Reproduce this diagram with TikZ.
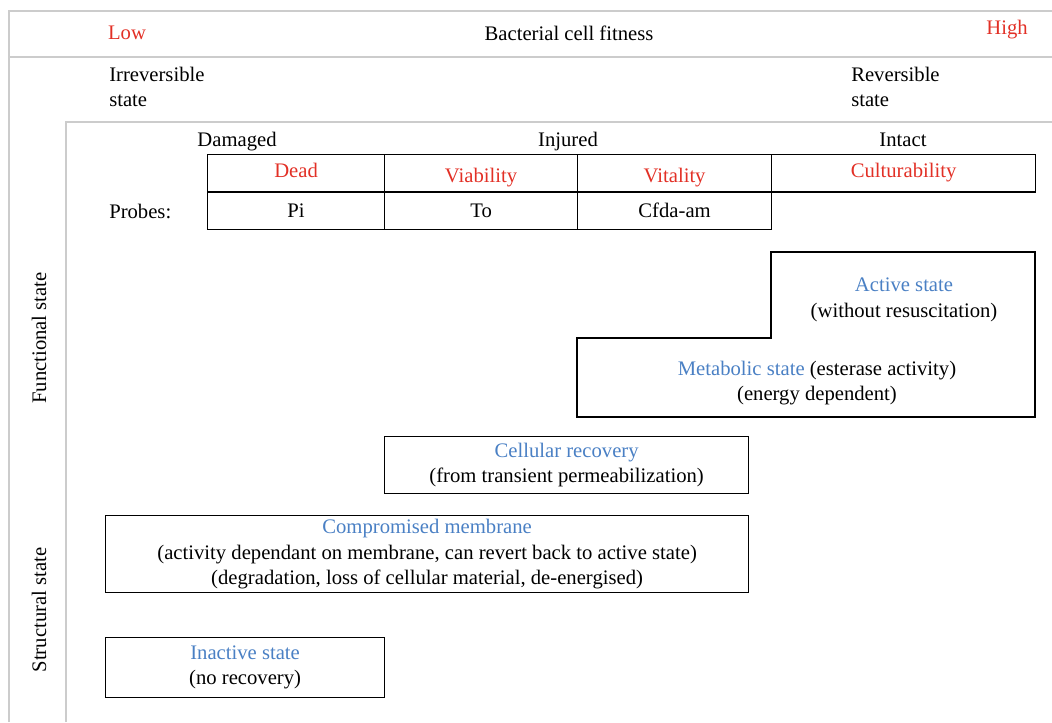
\documentclass[tikz,border=0pt]{standalone}
\usepackage{fontspec}
\setmainfont{Liberation Serif}
\definecolor{lowred}{RGB}{226,48,38}
\definecolor{stateblue}{RGB}{74,128,196}
\definecolor{framegray}{RGB}{204,204,204}
\begin{document}
\begin{tikzpicture}[x=0.75pt,y=-0.75pt,
        every node/.style={font=\fontsize{15.5}{19}\selectfont,inner sep=0pt},
        frame/.style={draw=framegray,line width=1.4pt},
        cell/.style={draw,line width=0.9pt,anchor=north west,minimum height=28pt,
            text height=10.5pt,text depth=3.5pt},
        lowcell/.style={cell,text height=17pt},
        probecell/.style={cell,minimum height=28.5pt,text height=13.5pt},
        statebox/.style={draw,line width=0.9pt,align=center,anchor=north west}]
        \useasboundingbox (0,0) rectangle (1052,722);
        % Grey frame
        \draw[frame] (9,722) -- (9,11) -- (1052,11);
        \draw[frame] (9,57) -- (1052,57);
        \draw[frame] (66,722) -- (66,122) -- (1052,122);
        % Fitness scale
        \node[text=lowred] (low) at (127,33) {Low};
        \node (fitness) at (569,33) {Bacterial cell fitness};
        \node[text=lowred] (high) at (1007,30) {High};
        \node[align=left,anchor=north west] (irrev) at (109,67) {Irreversible\\state};
        \node[align=left,anchor=north west] (rev) at (851,67) {Reversible\\state};
        % Side labels
        \node[rotate=90] (func) at (39,338) {Functional state};
        \node[rotate=90] (struct) at (39,610) {Structural state};
        % Probe table
        \node (damaged) at (237,142) {Damaged};
        \node (injured) at (568,142) {Injured};
        \node (intact) at (903,140) {Intact};
        \node[cell,text=lowred,minimum width=132.75pt] (dead) at (207,154) {Dead};
        \node[lowcell,text=lowred,minimum width=144.75pt] (viab) at (384,154) {Viability};
        \node[lowcell,text=lowred,minimum width=145.5pt] (vital) at (577,154) {Vitality};
        \node[cell,text=lowred,minimum width=198pt] (cult) at (771,154) {Culturability};
        \node[probecell,minimum width=132.75pt] (pi) at (207,191) {Pi};
        \node[probecell,minimum width=144.75pt] (to) at (384,191) {To};
        \node[probecell,minimum width=145.5pt] (cfda) at (577,191) {Cfda-am};
        \node[anchor=west] (probes) at (109,211) {Probes:};
        % Active and metabolic state
        \draw[line width=0.9pt] (771,252) -- (1035,252) -- (1035,417) -- (577,417)
            -- (577,338) -- (771,338) -- cycle;
        \node[align=center] (active) at (904,300) {\textcolor{stateblue}{Active state}\\(without resuscitation)};
        \node[align=center] (metab) at (817,383) {\textcolor{stateblue}{Metabolic state} (esterase activity)\\(energy dependent)};
        % Recovery and membrane
        \node[statebox,minimum width=273pt,minimum height=42.75pt] (recov) at (384,436)
            {\textcolor{stateblue}{Cellular recovery}\\(from transient permeabilization)};
        \node[statebox,minimum width=482.25pt,minimum height=57.75pt] (membr) at (105,515)
            {\textcolor{stateblue}{Compromised membrane}\\(activity dependant on membrane, can revert back to active state)\\(degradation, loss of cellular material, de-energised)};
        \node[statebox,minimum width=209.25pt,minimum height=45pt] (inact) at (105,637)
            {\textcolor{stateblue}{Inactive state}\\(no recovery)};
    \end{tikzpicture}
\end{document}
